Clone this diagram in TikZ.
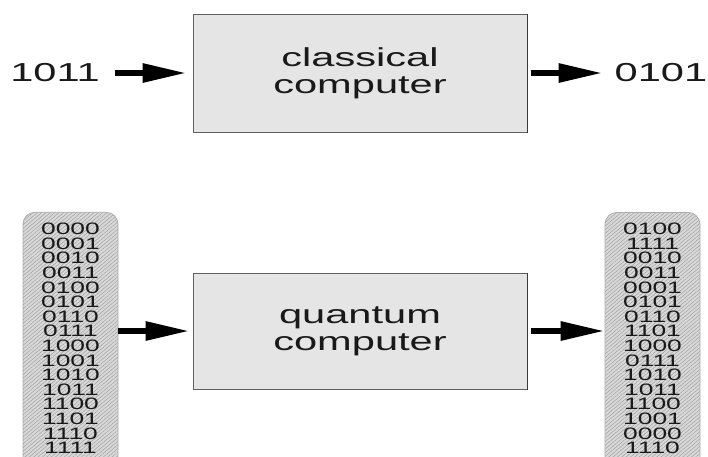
\documentclass[tikz,border=0pt]{standalone}
\usepackage{fontspec}
\newfontfamily\widesans[FakeStretch=1.6]{Liberation Sans}
\usetikzlibrary{arrows.meta,patterns.meta}
\tikzset{
  proc/.style={draw=gray!75!black, line width=1pt, fill=gray!20,
    minimum width=334pt, inner sep=0pt, align=center,
    font=\widesans\fontsize{26}{27}\selectfont, text=black!90},
  bits/.style={font=\widesans\fontsize{26}{27}\selectfont, inner sep=0pt, text=black!90},
  fat/.style={line width=6pt, -{Triangle[length=44pt,width=18pt]}},
  reg/.style={draw=gray!65, line width=0.8pt, rounded corners=12pt,
    preaction={fill=gray!30},
    pattern={Lines[angle=40,distance=2.8pt,line width=0.5pt]},
    pattern color=gray!75,
    minimum width=95pt, minimum height=264pt, inner sep=0pt},
  row/.style={font=\widesans\fontsize{16.5}{14.6}\selectfont, inner sep=0pt, text=black!90},
  edgeshade/.style={line width=1.6pt, draw=gray!45!black}
}
\begin{document}
\begin{tikzpicture}[x=1pt,y=-1pt]
  \useasboundingbox (0,0) rectangle (708,456);
  \clip (0,0) rectangle (708,456);
  \fill[white] (0,0) rectangle (708,456);

  % classical computer: one bit string in, one out
  \node[proc, minimum height=118pt] (cbox) at (360,73) {classical\\computer};
  \draw[edgeshade] (cbox.north east) -- (cbox.south east);
  \node[bits] (in) at (55,73) {1011};
  \node[bits] (out) at (661,73) {0101};
  \draw[fat, shorten <=15pt, shorten >=6pt] (in) -- (cbox);
  \draw[fat, shorten <=3pt, shorten >=12pt] (cbox) -- (out);

  % quantum computer: the whole register in, a permuted register out
  \node[proc, minimum height=116pt] (qbox) at (360,331) {quantum\\computer};
  \draw[edgeshade] (qbox.north east) -- (qbox.south east);

  \node[reg, anchor=north] (regL) at (70.5,212) {};
  \node[reg, anchor=north] (regR) at (652.5,212) {};

  \foreach \b [count=\i] in {0000,0001,0010,0011,0100,0101,0110,0111,
                             1000,1001,1010,1011,1100,1101,1110,1111}
    \node[row] (L\i) at (70.5,{229+(\i-1)*14.6}) {\b};
  \foreach \b [count=\i] in {0100,1111,0010,0011,0001,0101,0110,1101,
                             1000,0111,1010,1011,1100,1001,0000,1110}
    \node[row] (R\i) at (652.5,{229+(\i-1)*14.6}) {\b};

  \draw[fat, shorten >=3pt] (regL.east |- qbox.west) -- (qbox.west);
  \draw[fat, shorten <=3pt] (qbox.east) -- (qbox.east -| regR.west);
\end{tikzpicture}
\end{document}
